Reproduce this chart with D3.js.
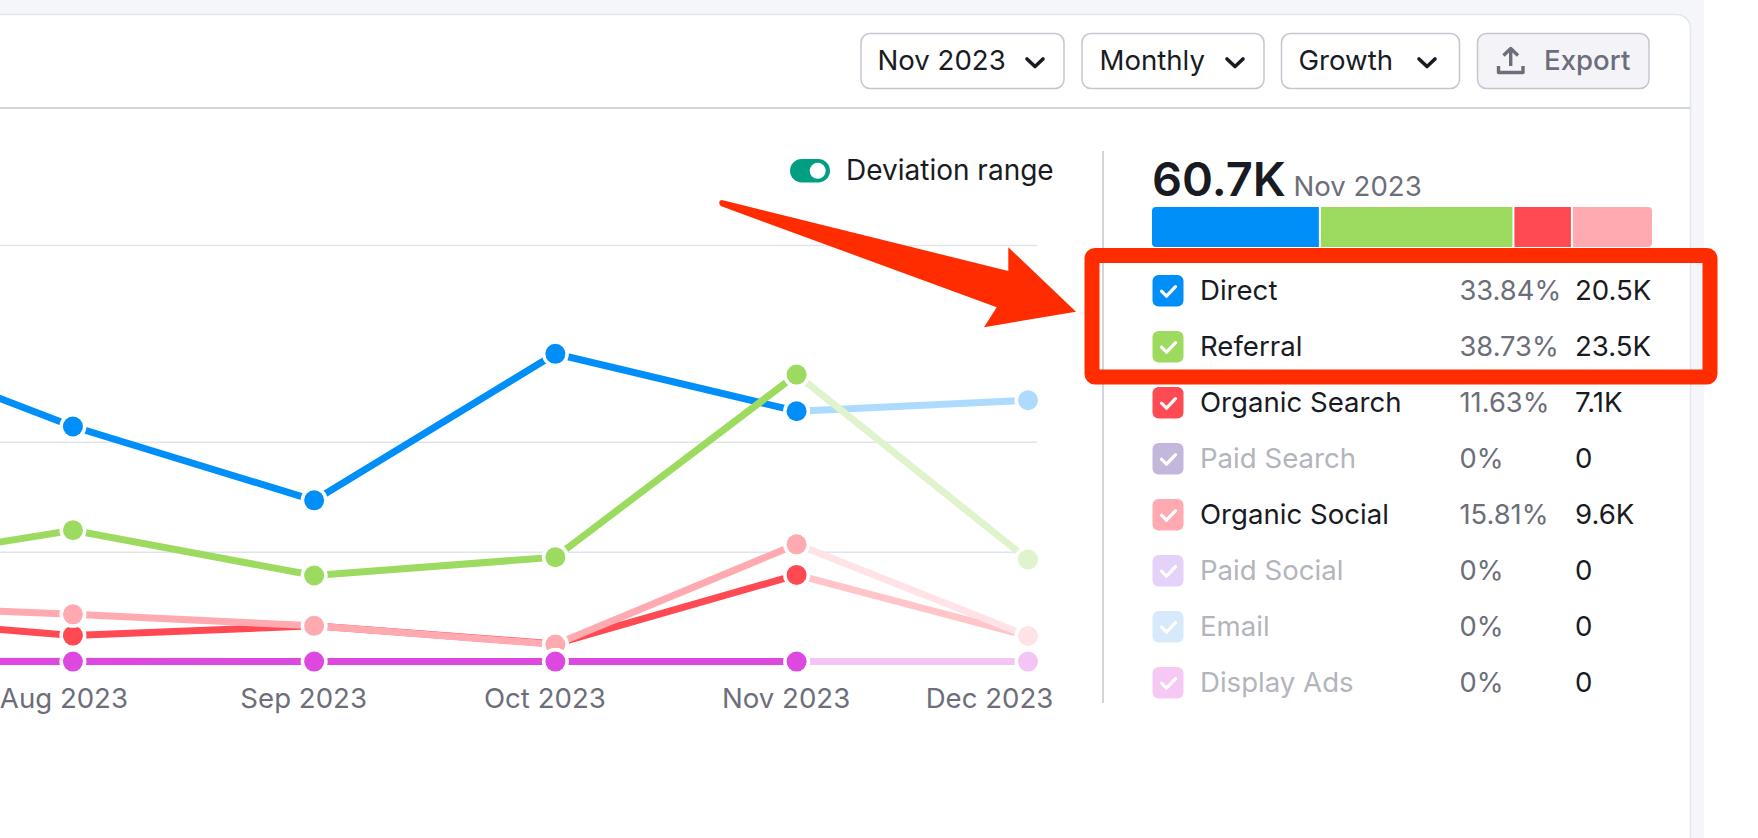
<!DOCTYPE html>
<html lang='en'>
<head>
  <meta charset='UTF-8'>
  <title>Traffic channels</title>
  <script src='https://cdnjs.cloudflare.com/ajax/libs/d3/7.8.5/d3.min.js'></script>
  <style>
    html, body { margin: 0; background: #fff; overflow: hidden; }
    text { font-family: Inter, 'Noto Sans', sans-serif; }
  </style>
</head>
<body>
<script>
  var months = ['Jul 2023', 'Aug 2023', 'Sep 2023', 'Oct 2023', 'Nov 2023', 'Dec 2023']
  var channels = ['Direct', 'Referral', 'Organic Search', 'Paid Search', 'Organic Social', 'Paid Social', 'Email', 'Display Ads']

  // monthly visits, thousands
  var direct = [26.8, 19.25, 13.2, 25.2, 20.5, 21.4]
  var referral = [7.6, 10.75, 7.05, 8.55, 23.5, 8.35]
  var organicSearch = [3.76, 2.13, 2.93, 1.45, 7.1, 2.1]
  var paidSearch = [0, 0, 0, 0, 0, 0]
  var organicSocial = [4.7, 3.87, 2.93, 1.4, 9.6, 2.1]
  var paidSocial = [0, 0, 0, 0, 0, 0]
  var email = [0.05, 0.03, 0, 0, 0, 0]
  var displayAds = [0, 0, 0, 0, 0, 0]
  var series = [direct, referral, organicSearch, paidSearch, organicSocial, paidSocial, email, displayAds]

  var gridTicks = [0, 9, 18, 34.1]

  var lineColors = ['#008ff8', '#9cdb5f', '#ff4953', '#8e7ac0', '#ffa9b0', '#c79cf5', '#6fbcff', '#dc48e0']
  var swatchColors = ['#008ff8', '#9cdb5f', '#ff4953', '#c3b8dc', '#ffa9b0', '#e5d2fa', '#d6eafc', '#f6c9f5']
  var enabled = [true, true, true, false, true, false, false, false]
  var shares = ['33.84%', '38.73%', '11.63%', '0%', '15.81%', '0%', '0%', '0%']
  var totals = ['20.5K', '23.5K', '7.1K', '0', '9.6K', '0', '0', '0']
  var currentMonth = 4

  var buttons = ['Nov 2023', 'Monthly', 'Growth']

  var dark = '#191b23', grey = '#6c6e79', muted = '#b3b5bd', line = '#c4c7cf'
  var fontSize = 27.6

  var svg = d3.select('body').append('svg')
  .attr('width', 1758)
  .attr('height', 838)
  .style('display', 'block')

  // page + card
  svg.append('rect').attr('width', 1704).attr('height', 838).attr('fill', '#f4f6fa')
  svg.append('rect').attr('x', -30).attr('y', 14.5).attr('width', 1720.5).attr('height', 860).attr('rx', 14)
  .attr('fill', '#fff').attr('stroke', '#e4e6ea').attr('stroke-width', 1.5)
  svg.append('line').attr('x1', 0).attr('x2', 1690).attr('y1', 108).attr('y2', 108).attr('stroke', line).attr('stroke-width', 1.5)

  // header buttons
  var btnBox = [[861, 203, 877.5, 1035], [1082, 182, 1099.5, 1235], [1281.5, 178, 1298.5, 1427]]
  buttons.forEach(function (b, i) {
    var p = btnBox[i]
    svg.append('rect').attr('x', p[0]).attr('y', 33.5).attr('width', p[1]).attr('height', 55).attr('rx', 9)
    .attr('fill', '#fff').attr('stroke', line).attr('stroke-width', 1.5)
    svg.append('text').attr('x', p[2]).attr('y', 69.5).attr('font-size', fontSize).attr('fill', dark).text(b)
    svg.append('path').attr('d', 'M' + (p[3] - 8) + ',59 l8,7.5 l8,-7.5').attr('fill', 'none')
    .attr('stroke', dark).attr('stroke-width', 3.6).attr('stroke-linecap', 'round').attr('stroke-linejoin', 'round')
  })
  svg.append('rect').attr('x', 1477.5).attr('y', 33.5).attr('width', 171.5).attr('height', 55).attr('rx', 9)
  .attr('fill', '#f4f4f8').attr('stroke', line).attr('stroke-width', 1.5)
  svg.append('path').attr('d', 'M1510.7,66 V49 M1503.5,55.5 L1510.7,48.5 L1518,55.5 M1498.5,66 V72.5 H1523 V66').attr('fill', 'none')
  .attr('stroke', grey).attr('stroke-width', 3.4).attr('stroke-linejoin', 'round')
  svg.append('text').attr('x', 1544).attr('y', 70).attr('font-size', fontSize).attr('font-weight', 500).attr('fill', grey).text('Export')

  // deviation toggle
  svg.append('rect').attr('x', 790).attr('y', 159).attr('width', 40).attr('height', 23.5).attr('rx', 11.75).attr('fill', '#009f81')
  svg.append('circle').attr('cx', 817.7).attr('cy', 170.8).attr('r', 8).attr('fill', '#fff')
  svg.append('text').attr('x', 846).attr('y', 179.6).attr('font-size', 28).attr('fill', dark).text('Deviation range')

  // chart
  var x = d3.scaleLinear().domain([0, 4, 5]).range([-168.3, 796.6, 1028])
  var y = d3.scaleLinear().domain([0, 34.1]).range([661.6, 245.1])

  var gridAxis = d3.axisRight(y).tickValues(gridTicks).tickSize(1037).tickFormat('')
  svg.append('g').call(gridAxis)
  .call(function (g) { g.select('.domain').remove() })
  .call(function (g) { g.selectAll('line').attr('stroke', '#dfe5ea').attr('stroke-width', 1.5) })

  var xAxis = d3.axisBottom(x).tickValues([1, 2, 3, 4, 5]).tickSize(0).tickFormat(function (i) { return months[i] })
  svg.append('g').attr('transform', 'translate(0,' + y(0) + ')').call(xAxis)
  .call(function (g) { g.select('.domain').remove() })
  .call(function (g) {
    g.selectAll('text')
    .attr('y', 46.7).attr('dy', 0)
    .attr('dx', function (i) { return i === 5 ? -39 : i === 1 ? -9.5 : -11 })
    .attr('fill', grey).style('font-size', fontSize + 'px').style('font-family', 'Inter')
  })

  var path = d3.line().x(function (d) { return x(d.i) }).y(function (d) { return y(d.v) })

  series.forEach(function (values, s) {
    var pts = values.map(function (v, i) { return { i: i, v: v } })
    var faded = d3.interpolateRgb('#fff', lineColors[s])(0.32) // future month, opaque so zero lines don't stack
    var g = svg.append('g')
    g.append('path').attr('d', path(pts.slice(0, currentMonth + 1)))
    .attr('fill', 'none').attr('stroke', lineColors[s]).attr('stroke-width', 7)
    g.append('path').attr('d', path(pts.slice(currentMonth)))
    .attr('fill', 'none').attr('stroke', faded).attr('stroke-width', 7)
    g.selectAll('.halo').data(pts).enter().append('circle')
    .attr('cx', function (d) { return x(d.i) }).attr('cy', function (d) { return y(d.v) })
    .attr('r', 13.5).attr('fill', '#fff')
    g.selectAll('.dot').data(pts).enter().append('circle')
    .attr('cx', function (d) { return x(d.i) }).attr('cy', function (d) { return y(d.v) })
    .attr('r', 10).attr('fill', function (d) { return d.i > currentMonth ? faded : lineColors[s] })
  })

  // right panel
  svg.append('line').attr('x1', 1103).attr('x2', 1103).attr('y1', 151).attr('y2', 703).attr('stroke', line).attr('stroke-width', 1.5)
  svg.append('text').attr('x', 1152).attr('y', 196).attr('font-size', 47).attr('font-weight', 600).attr('fill', dark).text('60.7K')
  svg.append('text').attr('x', 1293.5).attr('y', 196).attr('font-size', fontSize).attr('fill', grey).text(months[currentMonth])

  // share bar
  var current = series.map(function (v) { return v[currentMonth] })
  var barX = d3.scaleLinear().domain([0, d3.sum(current)]).range([1152, 1652])
  var barItems = []
  var running = 0
  current.forEach(function (v, i) {
    if (v > 0) barItems.push({ i: i, a: running, b: running + v })
    running += v
  })
  svg.append('clipPath').attr('id', 'barclip').append('rect')
  .attr('x', 1152).attr('y', 207).attr('width', 500).attr('height', 40).attr('rx', 4)
  svg.append('g').attr('clip-path', 'url(#barclip)').selectAll('rect').data(barItems).enter().append('rect')
  .attr('x', function (d) { return barX(d.a) }).attr('y', 207)
  .attr('width', function (d, i) { return barX(d.b) - barX(d.a) - (i < barItems.length - 1 ? 2 : 0) }).attr('height', 40)
  .attr('fill', function (d) { return lineColors[d.i] })

  // legend rows
  var rowY = d3.scalePoint().domain(channels).range([290.7, 682.7])
  var rows = svg.append('g').selectAll('g').data(channels).enter().append('g')
  .attr('transform', function (d) { return 'translate(0,' + rowY(d) + ')' })
  rows.append('rect').attr('x', 1152.5).attr('y', -15.8).attr('width', 31).attr('height', 31.6).attr('rx', 6)
  .attr('fill', function (d, i) { return swatchColors[i] })
  rows.append('path').attr('d', 'M1161.5,0.5 l5,5 l9,-9.5').attr('fill', 'none')
  .attr('stroke', '#fff').attr('stroke-width', 3.2).attr('stroke-linecap', 'round').attr('stroke-linejoin', 'round')
  rows.append('text').attr('x', 1200).attr('y', 9).attr('font-size', fontSize)
  .attr('fill', function (d, i) { return enabled[i] ? dark : muted }).text(function (d) { return d })
  rows.append('text').attr('x', 1459.5).attr('y', 9).attr('font-size', fontSize - 0.3)
  .attr('fill', grey).text(function (d, i) { return shares[i] })
  rows.append('text').attr('x', 1575).attr('y', 9).attr('font-size', fontSize)
  .attr('fill', dark).text(function (d, i) { return totals[i] })

  // red annotation
  svg.append('rect').attr('x', 1092).attr('y', 255.5).attr('width', 618).attr('height', 121.5).attr('rx', 3)
  .attr('fill', 'none').attr('stroke', '#ff2c00').attr('stroke-width', 15)
  svg.append('path').attr('d', 'M725,200.7 L1008.3,271 L1008.3,247.3 L1076,311.7 L984,327.3 L996.7,307.3 L720.7,206 Q717.5,202 721,200 Z')
  .attr('fill', '#ff2c00')
</script>
</body>
</html>
